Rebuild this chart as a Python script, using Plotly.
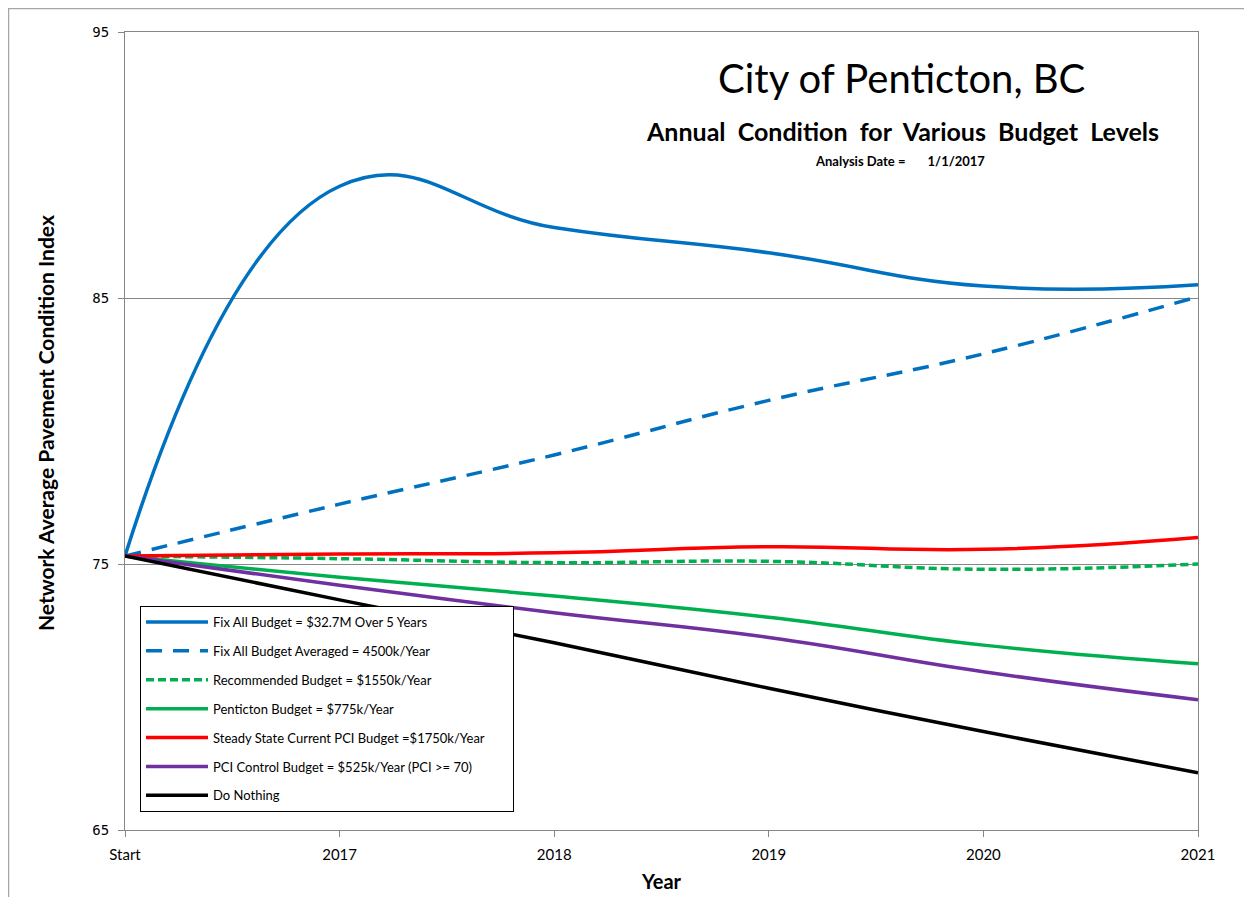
import plotly.graph_objects as go

categories = ["Start", "2017", "2018", "2019", "2020", "2021"]

fix_all = [75.3, 89.2, 87.65, 86.7, 85.45, 85.5]
fix_all_avg = [75.3, 77.25, 79.1, 81.15, 82.9, 85.05]
recommended = [75.3, 75.2, 75.05, 75.1, 74.8, 75.0]
penticton = [75.3, 74.5, 73.8, 73.0, 71.95, 71.25]
steady_state = [75.3, 75.38, 75.42, 75.65, 75.55, 76.0]
pci_control = [75.3, 74.2, 73.17, 72.24, 70.95, 69.9]
do_nothing = [75.3, 73.65, 72.04, 70.33, 68.7, 67.15]

series = [
    ("Fix All Budget = $32.7M Over 5 Years", fix_all, "#0070C0", "solid"),
    ("Fix All Budget Averaged = 4500k/Year", fix_all_avg, "#0070C0", "16px,11px"),
    ("Recommended Budget = $1550k/Year", recommended, "#00B050", "8px,4px"),
    ("Penticton Budget = $775k/Year", penticton, "#00B050", "solid"),
    ("Steady State Current PCI Budget =$1750k/Year", steady_state, "#FF0000", "solid"),
    ("PCI Control Budget = $525k/Year (PCI >= 70)", pci_control, "#7030A0", "solid"),
    ("Do Nothing", do_nothing, "#000000", "solid"),
]

y_ticks = [65, 75, 85, 95]

FONT = "Lato, 'Open Sans', 'Liberation Sans', sans-serif"

fig = go.Figure()
for i, (name, vals, color, dash) in enumerate(series):
    label = name + ("\u00a0" * 7 if i == 4 else "")
    fig.add_trace(go.Scatter(
        x=categories, y=vals, name=label, mode="lines",
        line=dict(color=color, width=3.5, dash=dash, shape="spline", smoothing=1.3),
        legendgroup=f"g{i}",
    ))

# page body has an 8px margin; reference coordinates are shifted by it
OFF = 8
W, H = 1236, 889
L, T = 125 - OFF, 32 - OFF
pw, ph = 1073, 798
R = W - L - pw
B = H - T - ph

def px(x):
    return (x - OFF - L) / pw

def py(y):
    return (T + ph - (y - OFF)) / ph

fig.update_layout(
    width=W, height=H,
    margin=dict(l=L, r=R, t=T, b=B, autoexpand=False),
    paper_bgcolor="white", plot_bgcolor="white",
    font=dict(family=FONT, color="black"),
    showlegend=True,
    legend=dict(
        x=px(140), y=py(606), xanchor="left", yanchor="top",
        bordercolor="black", borderwidth=1, bgcolor="white",
        font=dict(size=13, family=FONT), tracegroupgap=9,
        traceorder="grouped", itemwidth=62,
    ),
    xaxis=dict(
        type="category", range=[0, 5],
        showline=True, linecolor="#868686", linewidth=1, mirror=True,
        ticks="outside", ticklen=6, tickcolor="#868686",
        showgrid=False, zeroline=False,
        tickfont=dict(size=15, family=FONT),
        ticklabelstandoff=5,
        title=dict(text="<b>Year</b>", font=dict(size=20, family=FONT), standoff=12),
    ),
    yaxis=dict(
        range=[65, 95], tickvals=y_ticks,
        showline=True, linecolor="#868686", linewidth=1, mirror=True,
        ticks="outside", ticklen=6, tickcolor="#868686",
        showgrid=True, gridcolor="#868686", gridwidth=1, zeroline=False,
        tickfont=dict(size=14, family="'DejaVu Sans Mono', 'Liberation Mono', monospace"),
        ticklabelstandoff=6,
    ),
    annotations=[
        dict(text="<b>Network Average Pavement Condition Index</b>", x=px(45), y=py(423),
             xref="paper", yref="paper", showarrow=False, textangle=-90,
             font=dict(size=21, family=FONT, color="black"),
             xanchor="center", yanchor="middle"),
        dict(text="City of Penticton, BC", x=px(901), y=py(78), xref="paper", yref="paper",
             showarrow=False, font=dict(size=40, family=FONT, color="black"),
             xanchor="center", yanchor="middle"),
        dict(text="<b>Annual  Condition  for  Various  Budget  Levels</b>", x=px(902), y=py(131),
             xref="paper", yref="paper", showarrow=False,
             font=dict(size=25, family=FONT, color="black"), xanchor="center", yanchor="middle"),
        dict(text="<b>Analysis Date =       1/1/2017</b>", x=px(900), y=py(161),
             xref="paper", yref="paper", showarrow=False,
             font=dict(size=13, family=FONT, color="black"), xanchor="center", yanchor="middle"),
    ],
    shapes=[
        dict(type="rect", xref="paper", yref="paper",
             x0=px(8.5), x1=px(1300), y0=py(960), y1=py(8.5),
             line=dict(color="#A6A6A6", width=1.5), fillcolor="rgba(0,0,0,0)", layer="below"),
    ],
)

fig.write_html("out.html")
